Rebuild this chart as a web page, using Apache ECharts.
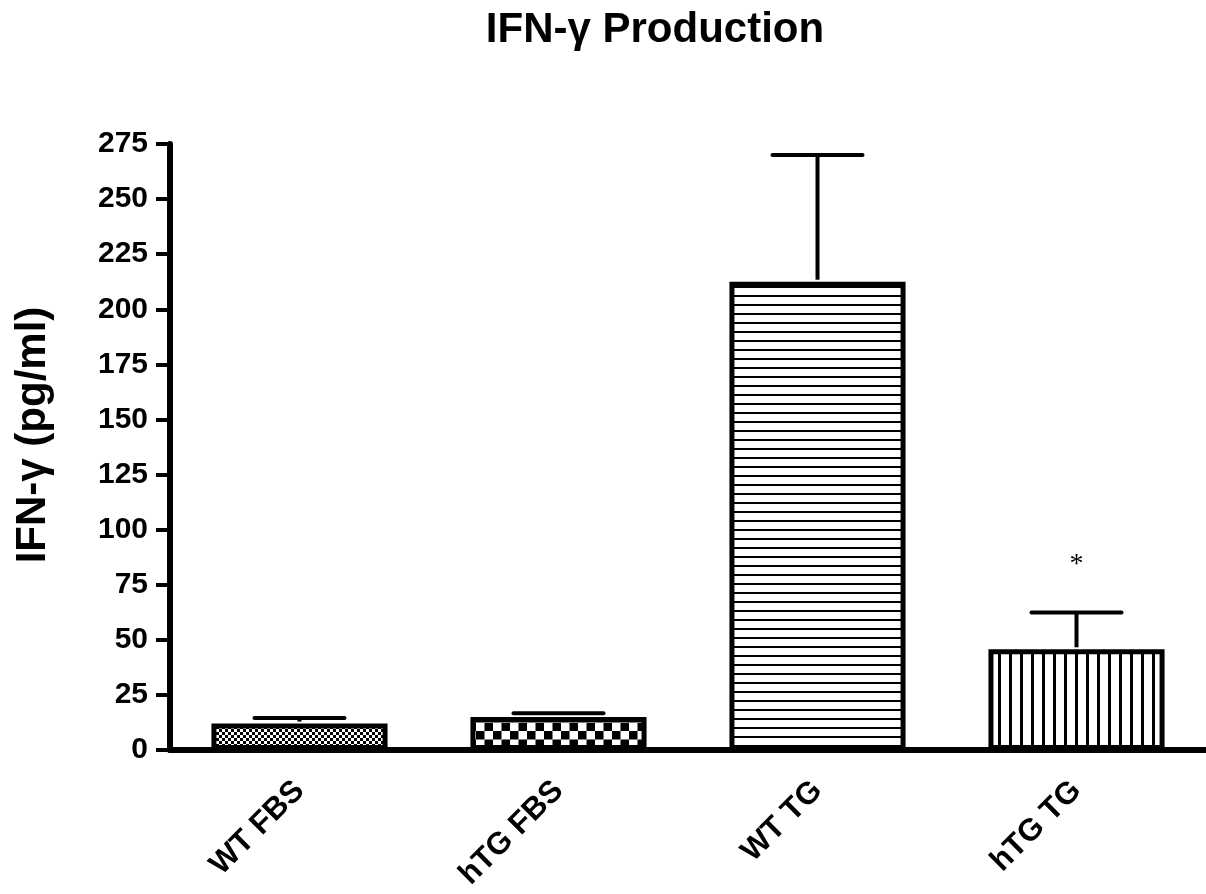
<!DOCTYPE html>
<html>
<head>
<meta charset="utf-8">
<script src="https://cdn.jsdelivr.net/npm/echarts@6/dist/echarts.min.js"></script>
<style>
  html, body { margin: 0; padding: 0; background: #fff; }
  #chart { width: 1206px; height: 894px; }
</style>
</head>
<body>
<div id="chart"></div>
<script>
// data
var groups = ['WT FBS', 'hTG FBS', 'WT TG', 'hTG TG'];
var means = [12, 15, 212.5, 45.7];
var upper = [14.5, 16.7, 270, 62.4];
var marks = ['', '', '', '*'];
var yTicks = [0, 25, 50, 75, 100, 125, 150, 175, 200, 225, 250, 275];

var font = '"Liberation Sans", Arial, sans-serif';

// fill patterns for each bar
function makePattern(kind) {
    var c = document.createElement('canvas');
    var ctx = c.getContext('2d');
    if (kind === 'fine') {
        c.width = 6; c.height = 6;
        ctx.fillStyle = '#fff'; ctx.fillRect(0, 0, 6, 6);
        ctx.fillStyle = '#000';
        ctx.fillRect(0, 0, 3, 3); ctx.fillRect(3, 3, 3, 3);
    } else if (kind === 'check') {
        c.width = 17; c.height = 17;
        ctx.fillStyle = '#fff'; ctx.fillRect(0, 0, 17, 17);
        ctx.fillStyle = '#000';
        ctx.fillRect(0, 0, 8.5, 8.5); ctx.fillRect(8.5, 8.5, 8.5, 8.5);
    } else if (kind === 'hline') {
        c.width = 9; c.height = 9;
        ctx.fillStyle = '#fff'; ctx.fillRect(0, 0, 9, 9);
        ctx.fillStyle = '#000';
        ctx.fillRect(0, 7, 9, 2);
    } else {
        c.width = 11; c.height = 11;
        ctx.fillStyle = '#fff'; ctx.fillRect(0, 0, 11, 11);
        ctx.fillStyle = '#000';
        ctx.fillRect(8, 0, 3, 11);
    }
    return { image: c, repeat: 'repeat' };
}
var patterns = ['fine', 'check', 'hline', 'vline'];

var barData = [];
for (var i = 0; i < groups.length; i++) {
    barData.push({
        value: means[i],
        itemStyle: { color: makePattern(patterns[i]) }
    });
}

var errData = [];
for (var i = 0; i < groups.length; i++) {
    errData.push([i, means[i], upper[i]]);
}

var myChart = echarts.init(document.getElementById('chart'));

var option = {
    backgroundColor: '#fff',
    animation: false,
    title: {
        text: 'IFN-γ Production',
        left: 650,
        textAlign: 'center',
        top: 4,
        textStyle: { fontFamily: font, fontWeight: 'bold', fontSize: 42, color: '#000' }
    },
    grid: { left: 170, right: -8, top: 144, bottom: 144, containLabel: false },
    xAxis: {
        type: 'category',
        data: groups,
        boundaryGap: true,
        axisLine: { lineStyle: { color: '#000', width: 6 } },
        axisTick: { alignWithLabel: true, length: 15, lineStyle: { color: '#000', width: 4 } },
        axisLabel: {
            rotate: 45,
            margin: 36,
            color: '#000',
            fontFamily: font,
            fontWeight: 'bold',
            fontSize: 31
        },
        splitLine: { show: false }
    },
    yAxis: {
        type: 'value',
        min: yTicks[0],
        max: yTicks[yTicks.length - 1],
        interval: 25,
        name: 'IFN-γ (pg/ml)',
        nameLocation: 'middle',
        nameGap: 116,
        nameTextStyle: {
            fontFamily: font, fontWeight: 'bold', fontSize: 42, color: '#000',
            padding: [0, 0, 0, 24]
        },
        axisLine: { show: true, lineStyle: { color: '#000', width: 6 } },
        axisTick: { show: true, length: 14, lineStyle: { color: '#000', width: 4 } },
        axisLabel: {
            margin: 22,
            color: '#000',
            fontFamily: font,
            fontWeight: 'bold',
            fontSize: 30
        },
        splitLine: { show: false }
    },
    series: [{
        type: 'bar',
        data: barData,
        barWidth: '68%',
        itemStyle: { borderColor: '#000', borderWidth: 5 },
        z: 2
    }, {
        type: 'custom',
        data: errData,
        z: 3,
        renderItem: function (params, api) {
            var idx = api.value(0);
            var base = api.coord([idx, api.value(1)]);
            var top = api.coord([idx, api.value(2)]);
            var half = 45;
            var children = [{
                type: 'line',
                shape: { x1: base[0], y1: base[1] - 2, x2: top[0], y2: top[1] },
                style: { stroke: '#000', lineWidth: 4 }
            }, {
                type: 'line',
                shape: { x1: top[0] - half, y1: top[1], x2: top[0] + half, y2: top[1] },
                style: { stroke: '#000', lineWidth: 4, lineCap: 'round' }
            }];
            if (marks[idx]) {
                children.push({
                    type: 'text',
                    style: {
                        text: marks[idx],
                        x: top[0],
                        y: top[1] - 48,
                        textAlign: 'center',
                        textVerticalAlign: 'middle',
                        font: '28px "Liberation Serif", serif',
                        fill: '#000'
                    }
                });
            }
            return { type: 'group', children: children };
        }
    }]
};

myChart.setOption(option);
</script>
</body>
</html>
